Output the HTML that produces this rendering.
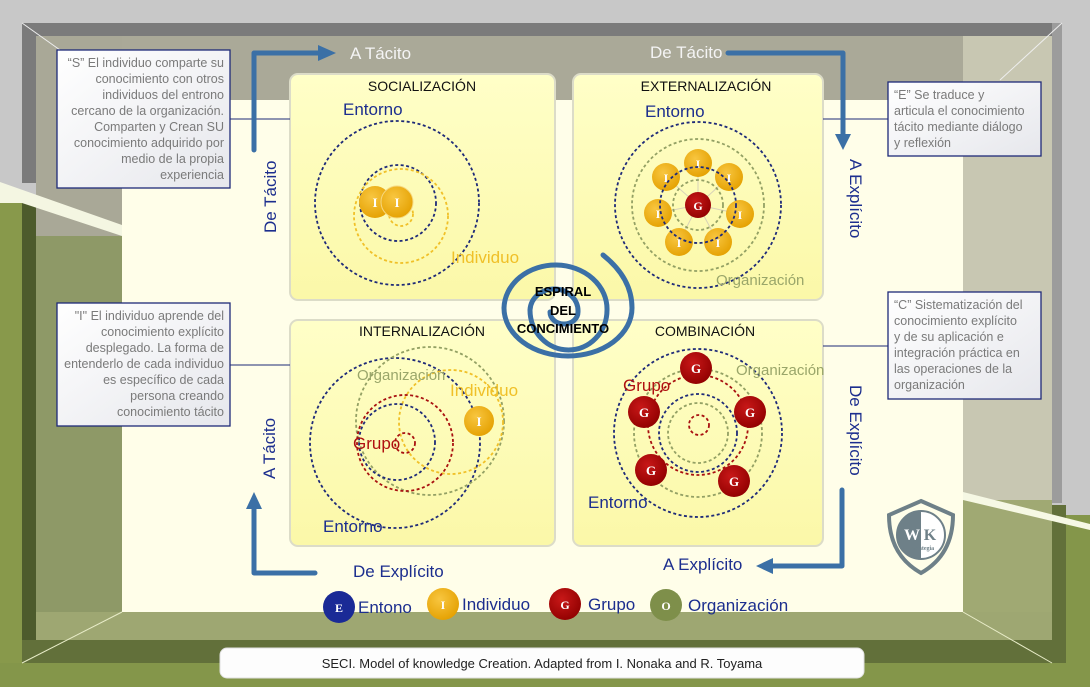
<!DOCTYPE html>
<html><head><meta charset="utf-8"><style>
html,body{margin:0;padding:0;width:1090px;height:687px;overflow:hidden;background:#c8c8c8}
svg{display:block;font-family:"Liberation Sans",sans-serif}
</style></head><body>
<svg width="1090" height="687" viewBox="0 0 1090 687" xmlns="http://www.w3.org/2000/svg">
<defs>
<linearGradient id="q" x1="0" y1="0" x2="0" y2="1"><stop offset="0" stop-color="#ffffc8"/><stop offset="1" stop-color="#fbf8a8"/></linearGradient>
<linearGradient id="bx" x1="0" y1="0" x2="1" y2="1"><stop offset="0" stop-color="#ffffff"/><stop offset="1" stop-color="#e6e7ec"/></linearGradient>
<radialGradient id="gy" cx="0.4" cy="0.35" r="0.7"><stop offset="0" stop-color="#f8c640"/><stop offset="1" stop-color="#e4a000"/></radialGradient>
<radialGradient id="gr" cx="0.4" cy="0.35" r="0.7"><stop offset="0" stop-color="#c81818"/><stop offset="1" stop-color="#900000"/></radialGradient>
</defs>
<rect width="1090" height="687" fill="#c8c8c8"/>
<rect x="0" y="203" width="22" height="484" fill="#88994b"/>
<rect x="0" y="663" width="1090" height="24" fill="#84964a"/>
<rect x="1066" y="515" width="24" height="172" fill="#84964a"/>
<rect x="22" y="23" width="1040" height="13" fill="#7b7b7b"/>
<rect x="22" y="23" width="14" height="160" fill="#7b7b7b"/>
<rect x="1052" y="23" width="10" height="480" fill="#9c9c9c"/>
<rect x="22" y="203" width="14" height="460" fill="#4d5b2c"/>
<rect x="22" y="640" width="1044" height="23" fill="#62703a"/>
<rect x="1052" y="505" width="14" height="158" fill="#62703a"/>
<rect x="36" y="36" width="1016" height="64" fill="#aaa998"/>
<rect x="963" y="36" width="89" height="470" fill="#c8c7b2"/>
<rect x="36" y="36" width="86" height="200" fill="#a9a897"/>
<rect x="36" y="236" width="86" height="404" fill="#8e9967"/>
<rect x="963" y="500" width="89" height="140" fill="#a0a973"/>
<rect x="36" y="612" width="1016" height="28" fill="#9ea772"/>
<polygon points="0,182 122,225 122,236 22,203 0,203" fill="#f4f6e2"/>
<polygon points="963,492 1090,524 1090,530 963,500" fill="#f6f8e4"/>
<rect x="122" y="100" width="841" height="512" fill="#fffee9"/>
<line x1="22" y1="23" x2="60" y2="50" stroke="#eee" stroke-width="1"/>
<line x1="1062" y1="23" x2="1000" y2="80" stroke="#eee" stroke-width="1"/>
<line x1="963" y1="612" x2="1052" y2="663" stroke="#e8ecc8" stroke-width="1"/>
<line x1="122" y1="612" x2="22" y2="663" stroke="#e8ecc8" stroke-width="1"/>
<rect x="290" y="74" width="265" height="226" rx="8" fill="url(#q)" stroke="#dcdcc8" stroke-width="2"/>
<rect x="573" y="74" width="250" height="226" rx="8" fill="url(#q)" stroke="#dcdcc8" stroke-width="2"/>
<rect x="290" y="320" width="265" height="226" rx="8" fill="url(#q)" stroke="#dcdcc8" stroke-width="2"/>
<rect x="573" y="320" width="250" height="226" rx="8" fill="url(#q)" stroke="#dcdcc8" stroke-width="2"/>
<g font-size="14" fill="#111" text-anchor="middle">
<text x="422" y="91">SOCIALIZACIÓN</text>
<text x="706" y="91">EXTERNALIZACIÓN</text>
<text x="422" y="336">INTERNALIZACIÓN</text>
<text x="705" y="336">COMBINACIÓN</text>
</g>
<g stroke="#1e2a78" stroke-width="1">
<line x1="230" y1="119" x2="290" y2="119"/><line x1="823" y1="119" x2="888" y2="119"/>
<line x1="230" y1="365" x2="290" y2="365"/><line x1="823" y1="346" x2="888" y2="346"/>
</g>
<g font-size="12.5" fill="#7a7a7a">
<rect x="57" y="50" width="173" height="138" fill="url(#bx)" stroke="#1e2a78" stroke-width="1.3"/>
<g text-anchor="end"><text x="224" y="67">“S” El individuo comparte su</text><text x="224" y="83">conocimiento con otros</text><text x="224" y="99">individuos del entrono</text><text x="224" y="115">cercano de la organización.</text><text x="224" y="131">Comparten y Crean SU</text><text x="224" y="147">conocimiento adquirido por</text><text x="224" y="163">medio de la propia</text><text x="224" y="179">experiencia</text></g>
<rect x="57" y="303" width="173" height="123" fill="url(#bx)" stroke="#1e2a78" stroke-width="1.3"/>
<g text-anchor="end"><text x="224" y="320">"I" El individuo aprende del</text><text x="224" y="336">conocimiento explícito</text><text x="224" y="352">desplegado. La forma de</text><text x="224" y="368">entenderlo de cada individuo</text><text x="224" y="384">es específico de cada</text><text x="224" y="400">persona creando</text><text x="224" y="416">conocimiento tácito</text></g>
<rect x="888" y="82" width="153" height="74" fill="url(#bx)" stroke="#1e2a78" stroke-width="1.3"/>
<text x="894" y="99">“E” Se traduce y</text><text x="894" y="115">articula el conocimiento</text><text x="894" y="131">tácito mediante diálogo</text><text x="894" y="147">y reflexión</text>
<rect x="888" y="292" width="153" height="107" fill="url(#bx)" stroke="#1e2a78" stroke-width="1.3"/>
<text x="894" y="309">“C” Sistematización del</text><text x="894" y="325">conocimiento explícito</text><text x="894" y="341">y de su aplicación e</text><text x="894" y="357">integración práctica en</text><text x="894" y="373">las operaciones de la</text><text x="894" y="389">organización</text>
</g>
<g stroke="#3b70a6" stroke-width="5" fill="none" stroke-linecap="round" stroke-linejoin="round">
<path d="M254,150 V53 H320"/><path d="M728,53 H843 V135"/><path d="M315,573 H254 V508"/><path d="M842,490 V566 H772"/>
</g>
<g fill="#3b70a6">
<polygon points="318,45 336,53 318,61"/><polygon points="835,134 851,134 843,150"/><polygon points="246,509 262,509 254,492"/><polygon points="773,558 773,574 756,566"/>
</g>
<g font-size="17" fill="#f4f4f4"><text x="350" y="59">A Tácito</text><text x="650" y="58">De Tácito</text></g>
<g font-size="17" fill="#1c2e8e">
<text x="353" y="577">De Explícito</text><text x="663" y="570">A Explícito</text>
<text transform="translate(276,233) rotate(-90)">De Tácito</text>
<text transform="translate(275,479) rotate(-90)">A Tácito</text>
<text transform="translate(850,159) rotate(90)">A Explícito</text>
<text transform="translate(850,385) rotate(90)">De Explícito</text>
</g>
<g fill="none" stroke-dasharray="3,2.5" stroke-width="1.8">
<circle cx="397" cy="203" r="82" stroke="#1e2a78"/>
<circle cx="398" cy="203" r="38" stroke="#1e2a78"/>
<circle cx="401" cy="216" r="47" stroke="#f0c028"/>
<circle cx="401" cy="214" r="12" stroke="#f0c028"/>
</g>
<g font-family="Liberation Serif,serif" font-weight="bold" font-size="13" fill="#fff" text-anchor="middle">
<circle cx="375" cy="202" r="16" fill="url(#gy)"/><circle cx="397" cy="202" r="16" fill="url(#gy)" stroke="#f6d880"/>
<text x="375" y="207">I</text><text x="397" y="207">I</text>
</g>
<text x="343" y="115" font-size="17" fill="#1c2e8e">Entorno</text>
<text x="451" y="263" font-size="17" fill="#f0c028">Individuo</text>
<g stroke="#d8d2b8" stroke-width="1">
<line x1="698" y1="205" x2="698" y2="163"/><line x1="698" y1="205" x2="729" y2="177"/><line x1="698" y1="205" x2="740" y2="214"/><line x1="698" y1="205" x2="718" y2="242"/><line x1="698" y1="205" x2="679" y2="242"/><line x1="698" y1="205" x2="658" y2="213"/><line x1="698" y1="205" x2="666" y2="177"/>
</g>
<g fill="none" stroke-dasharray="3,2.5" stroke-width="1.8">
<circle cx="698" cy="205" r="83" stroke="#1e2a78"/>
<circle cx="698" cy="205" r="66" stroke="#93a064"/>
<circle cx="698" cy="205" r="25" stroke="#93a064"/>
</g>
<g font-family="Liberation Serif,serif" font-weight="bold" font-size="12" fill="#fff" text-anchor="middle">
<circle cx="698" cy="163" r="14" fill="url(#gy)"/><circle cx="729" cy="177" r="14" fill="url(#gy)"/><circle cx="740" cy="214" r="14" fill="url(#gy)"/><circle cx="718" cy="242" r="14" fill="url(#gy)"/><circle cx="679" cy="242" r="14" fill="url(#gy)"/><circle cx="658" cy="213" r="14" fill="url(#gy)"/><circle cx="666" cy="177" r="14" fill="url(#gy)"/>
<text x="698" y="168">I</text><text x="729" y="182">I</text><text x="740" y="219">I</text><text x="718" y="247">I</text><text x="679" y="247">I</text><text x="658" y="218">I</text><text x="666" y="182">I</text>
<circle cx="698" cy="205" r="13" fill="url(#gr)"/><text x="698" y="210">G</text>
</g>
<circle cx="698" cy="205" r="38" fill="none" stroke="#1e2a78" stroke-width="1.8" stroke-dasharray="3,2.5"/>
<text x="645" y="117" font-size="17" fill="#1c2e8e">Entorno</text>
<text x="716" y="285" font-size="15" fill="#9aa66a">Organización</text>
<g fill="none" stroke-dasharray="3,2.5" stroke-width="1.8">
<circle cx="395" cy="443" r="85" stroke="#1e2a78"/>
<circle cx="430" cy="421" r="74" stroke="#93a064"/>
<circle cx="451" cy="422" r="52" stroke="#f0c028"/>
<circle cx="405" cy="443" r="48" stroke="#a81010"/>
<circle cx="397" cy="442" r="38" stroke="#1e2a78"/>
<circle cx="405" cy="443" r="10" stroke="#a81010"/>
</g>
<circle cx="479" cy="421" r="15" fill="url(#gy)"/>
<text x="479" y="426" font-family="Liberation Serif,serif" font-weight="bold" font-size="13" fill="#fff" text-anchor="middle">I</text>
<text x="357" y="380" font-size="15" fill="#9aa66a">Organización</text>
<text x="450" y="396" font-size="17" fill="#f0c028">Individuo</text>
<text x="353" y="449" font-size="17" fill="#b01010">Grupo</text>
<text x="323" y="532" font-size="17" fill="#1c2e8e">Entorno</text>
<g fill="none" stroke-dasharray="3,2.5" stroke-width="1.8">
<circle cx="698" cy="433" r="84" stroke="#1e2a78"/>
<circle cx="698" cy="433" r="64" stroke="#93a064"/>
<circle cx="698" cy="425" r="50" stroke="#a81010"/>
<circle cx="698" cy="433" r="39" stroke="#1e2a78"/>
<circle cx="698" cy="433" r="30" stroke="#93a064"/>
<circle cx="699" cy="425" r="10" stroke="#a81010"/>
</g>
<g font-family="Liberation Serif,serif" font-weight="bold" font-size="13" fill="#fff" text-anchor="middle">
<circle cx="696" cy="368" r="16" fill="url(#gr)"/><circle cx="644" cy="412" r="16" fill="url(#gr)"/><circle cx="750" cy="412" r="16" fill="url(#gr)"/><circle cx="651" cy="470" r="16" fill="url(#gr)"/><circle cx="734" cy="481" r="16" fill="url(#gr)"/>
<text x="696" y="373">G</text><text x="644" y="417">G</text><text x="750" y="417">G</text><text x="651" y="475">G</text><text x="734" y="486">G</text>
</g>
<text x="623" y="391" font-size="17" fill="#b01010">Grupo</text>
<text x="736" y="375" font-size="15" fill="#9aa66a">Organización</text>
<text x="588" y="508" font-size="17" fill="#1c2e8e">Entorno</text>
<path d="M550,312 A14 12 0 0 0 578,312 A24 22 0 0 0 530,310 A38.5 40 0 0 0 607,310 A51.5 44 0 0 0 504,308 A64 48 0 0 0 632,308 Q632,278 603,255" fill="none" stroke="#3b70a6" stroke-width="5" stroke-linecap="round"/>
<g font-size="13" font-weight="bold" fill="#000" text-anchor="middle">
<text x="563" y="296">ESPIRAL</text><text x="563" y="315">DEL</text><text x="563" y="333">CONCIMIENTO</text>
</g>
<g font-family="Liberation Serif,serif" font-weight="bold" font-size="12" fill="#fff" text-anchor="middle">
<circle cx="339" cy="607" r="16" fill="#1a2a96"/><text x="339" y="612">E</text>
<circle cx="443" cy="604" r="16" fill="url(#gy)"/><text x="443" y="609">I</text>
<circle cx="565" cy="604" r="16" fill="url(#gr)"/><text x="565" y="609">G</text>
<circle cx="666" cy="605" r="16" fill="#7e8f4a"/><text x="666" y="610">O</text>
</g>
<g font-size="17" fill="#1c2e8e"><text x="358" y="613">Entono</text><text x="462" y="610">Individuo</text><text x="588" y="610">Grupo</text><text x="688" y="611">Organización</text></g>
<g transform="translate(921,535)">
<path d="M0,-34 L32,-20 Q32,20 0,38 Q-32,20 -32,-20 Z" fill="#fffee9" stroke="#6e8088" stroke-width="4"/>
<circle cx="0" cy="0" r="24" fill="#6e8088"/>
<path d="M0,-24 A24 24 0 0 1 0,24 Z" fill="#fff"/>
<circle cx="0" cy="0" r="24" fill="none" stroke="#6e8088" stroke-width="2"/>
<text x="-9" y="5" font-family="Liberation Serif,serif" font-weight="bold" font-size="16" fill="#fff" text-anchor="middle">W</text>
<text x="9" y="5" font-family="Liberation Serif,serif" font-weight="bold" font-size="16" fill="#6e8088" text-anchor="middle">K</text>
<text x="0" y="15" font-family="Liberation Serif,serif" font-weight="bold" font-size="6" fill="#6e8088" text-anchor="middle">Estrategia</text>
</g>
<rect x="220" y="648" width="644" height="30" rx="7" fill="#fdfdfd" stroke="#e0e0e0"/>
<text x="542" y="668" font-size="13" fill="#222" text-anchor="middle">SECI. Model of knowledge Creation. Adapted from I. Nonaka and R. Toyama</text>
</svg>
</body></html>
